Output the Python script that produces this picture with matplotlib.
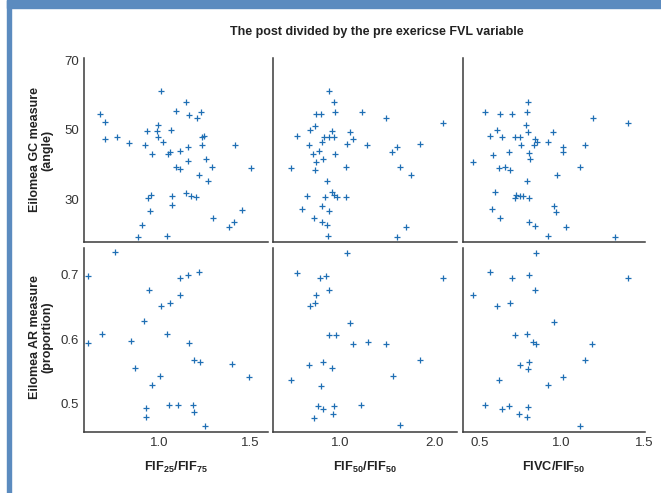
import matplotlib
matplotlib.use("Agg")
import matplotlib.pyplot as plt
from matplotlib.patches import Rectangle
from matplotlib.ticker import FormatStrFormatter

plt.rcParams['font.family'] = ['Liberation Sans', 'DejaVu Sans']
plt.rcParams['mathtext.fontset'] = 'custom'
plt.rcParams['mathtext.rm'] = 'Liberation Sans:bold'
plt.rcParams['mathtext.bf'] = 'Liberation Sans:bold'

# GC measure (angle) vs each ratio
gc_x1 = [0.673, 0.702, 0.700, 0.768, 0.833, 0.919, 0.958, 0.932, 0.985, 0.994,
         0.994, 1.022, 1.007, 1.066, 1.046, 1.061, 1.094, 1.149, 1.164, 1.206,
         1.228, 1.114, 1.160, 1.232, 1.248, 1.232, 1.090, 1.114, 1.160, 1.256,
         1.287, 1.219, 1.265, 1.415, 1.504, 0.936, 0.954, 0.950, 1.072, 1.068,
         1.145, 1.175, 1.202, 0.903, 0.884, 1.044, 1.296, 1.382, 1.410, 1.456]
gc_y1 = [54.5, 52.2, 47.3, 47.8, 46.1, 45.5, 42.9, 49.6, 49.6, 51.3,
         47.8, 46.4, 61.2, 50.1, 42.9, 43.5, 55.4, 58.0, 54.2, 53.4,
         55.2, 43.9, 44.9, 47.8, 48.1, 45.5, 39.3, 38.6, 40.9, 41.5,
         39.4, 36.9, 35.1, 45.5, 38.9, 30.3, 31.2, 26.4, 30.8, 28.2,
         31.6, 30.8, 30.5, 22.5, 18.9, 19.2, 24.4, 22.0, 23.3, 26.7]

gc_x2 = [0.884, 0.940, 0.951, 0.744, 0.796, 1.228, 1.484, 2.084, 0.684, 0.737,
         0.919, 1.109, 0.547, 0.832, 0.881, 0.937, 1.137, 0.807, 0.677, 1.074,
         1.288, 1.846, 1.596, 0.775, 1.551, 0.712, 0.951, 0.818, 0.751, 0.488,
         0.740, 1.067, 1.628, 1.751, 0.860, 0.919, 0.940, 0.968, 0.649, 0.846,
         1.067, 0.814, 0.600, 0.881, 0.730, 0.814, 0.860, 1.695, 0.870, 1.600]
gc_y2 = [61.1, 58.0, 55.3, 54.6, 54.6, 55.2, 53.3, 51.9, 50.1, 51.0,
         49.7, 49.3, 48.1, 47.8, 47.8, 47.8, 47.3, 46.5, 45.5, 45.8,
         45.5, 45.8, 44.9, 43.9, 43.5, 42.9, 42.9, 41.5, 40.6, 39.0,
         38.3, 39.2, 39.4, 36.8, 35.1, 31.9, 31.2, 30.6, 30.9, 30.6,
         30.6, 28.0, 27.0, 26.4, 24.4, 23.3, 22.5, 21.8, 19.2, 18.9]

gc_x3 = [0.793, 0.538, 0.624, 0.701, 0.789, 1.187, 1.404, 0.610, 0.785, 0.793,
         0.948, 0.568, 0.641, 0.719, 0.747, 0.841, 0.853, 0.920, 0.753, 0.831,
         1.008, 1.139, 0.679, 1.010, 0.801, 0.586, 0.805, 0.464, 0.618, 0.659,
         0.689, 1.110, 0.972, 0.789, 0.598, 0.725, 0.747, 0.765, 0.717, 0.799,
         0.952, 0.966, 0.580, 0.629, 0.799, 0.839, 1.026, 0.918, 1.323]
gc_y3 = [58.0, 55.2, 54.6, 54.6, 55.2, 53.3, 51.9, 50.1, 51.3, 49.3,
         49.3, 48.1, 47.8, 47.8, 47.8, 47.3, 46.4, 46.4, 45.5, 45.5,
         44.9, 45.5, 43.5, 43.5, 43.2, 42.6, 41.5, 40.6, 39.0, 39.4,
         38.3, 39.4, 36.8, 35.1, 31.9, 31.3, 30.8, 30.8, 30.2, 30.2,
         28.0, 26.1, 27.0, 24.4, 23.3, 22.1, 21.8, 19.2, 18.9]

# AR measure (proportion) vs each ratio
ar_x1 = [0.754, 0.607, 0.605, 0.686, 0.943, 0.915, 0.846, 0.868, 1.009, 1.059,
         1.116, 1.158, 1.217, 1.112, 1.040, 1.165, 1.193, 1.221, 1.399, 1.494,
         1.004, 0.961, 0.926, 0.928, 1.055, 1.101, 1.186, 1.193, 1.250]
ar_y1 = [0.735, 0.698, 0.594, 0.608, 0.676, 0.628, 0.597, 0.555, 0.651, 0.657,
         0.696, 0.700, 0.704, 0.668, 0.608, 0.594, 0.567, 0.564, 0.561, 0.541,
         0.542, 0.528, 0.492, 0.478, 0.498, 0.497, 0.498, 0.486, 0.464]

ar_x2 = [1.070, 0.547, 0.793, 0.849, 2.084, 0.881, 0.744, 0.740, 0.688, 1.109,
         0.884, 0.961, 1.140, 1.298, 1.481, 1.846, 0.677, 0.821, 0.919, 1.558,
         0.488, 0.804, 0.768, 0.940, 0.825, 0.930, 1.225, 0.730, 1.635]
ar_y2 = [0.734, 0.703, 0.695, 0.698, 0.696, 0.676, 0.668, 0.656, 0.651, 0.625,
         0.606, 0.606, 0.592, 0.595, 0.592, 0.567, 0.559, 0.564, 0.555, 0.542,
         0.537, 0.527, 0.496, 0.496, 0.491, 0.484, 0.497, 0.477, 0.466]

ar_x3 = [0.847, 0.564, 0.799, 0.699, 1.404, 0.837, 0.464, 0.689, 0.608, 0.954,
         0.717, 0.789, 0.829, 0.843, 1.185, 1.139, 0.801, 0.749, 0.793, 1.006,
         0.620, 0.920, 0.536, 0.641, 0.681, 0.793, 0.743, 0.791, 1.108]
ar_y3 = [0.734, 0.704, 0.700, 0.695, 0.696, 0.676, 0.668, 0.656, 0.651, 0.626,
         0.606, 0.608, 0.595, 0.592, 0.592, 0.567, 0.565, 0.559, 0.553, 0.541,
         0.537, 0.528, 0.497, 0.491, 0.496, 0.494, 0.484, 0.478, 0.464]

x_labels = [r'FIF$_{25}$/FIF$_{75}$', r'FIF$_{50}$/FIF$_{50}$', r'FIVC/FIF$_{50}$']
x_ticks = [[1.0, 1.5], [1.0, 2.0], [0.5, 1.0, 1.5]]
x_lims = [(0.586, 1.60), (0.29, 2.23), (0.40, 1.505)]
y_labels = ['Eilomea GC measure\n(angle)', 'Eilomea AR measure\n(proportion)']

W, H = 661, 493
fig = plt.figure(figsize=(W / 100, H / 100), dpi=100)

# blue frame
frame = '#5b8bbf'
fig.patches.append(Rectangle((7 / W, 1 - 8 / H), 1, 8 / H, transform=fig.transFigure,
                             color=frame, zorder=0))
fig.patches.append(Rectangle((7 / W, 0), 3.5 / W, 1, transform=fig.transFigure,
                             color=frame, zorder=0))

cols = [(84.3, 268.3), (272.7, 456.7), (462.7, 645.0)]
rows = [(58.3, 241.7), (248.0, 431.7)]
data = [[(gc_x1, gc_y1), (gc_x2, gc_y2), (gc_x3, gc_y3)],
        [(ar_x1, ar_y1), (ar_x2, ar_y2), (ar_x3, ar_y3)]]

for r, (top, bot) in enumerate(rows):
    for c, (left, right) in enumerate(cols):
        ax = fig.add_axes([left / W, 1 - bot / H, (right - left) / W, (bot - top) / H])
        xs, ys = data[r][c]
        ax.plot(xs, ys, '+', color='#1f6fb4', ms=4.5, mew=0.9)
        ax.set_xlim(*x_lims[c])
        if r == 0:
            ax.set_ylim(17.65, 70.7)
            ax.set_yticks([30, 50, 70])
            ax.set_xticks([])
        else:
            ax.set_ylim(0.4557, 0.742)
            ax.set_yticks([0.5, 0.6, 0.7])
            ax.set_xticks(x_ticks[c])
            ax.xaxis.set_major_formatter(FormatStrFormatter('%.1f'))
            ax.set_xlabel(x_labels[c], fontsize=9.2, fontweight='bold', color='#222222',
                          labelpad=8)
        if c > 0:
            ax.set_yticklabels([])
        for s in ['top', 'right']:
            ax.spines[s].set_visible(False)
        for s in ['left', 'bottom']:
            ax.spines[s].set_color('#3a3a3a')
            ax.spines[s].set_linewidth(1.1)
        ax.tick_params(length=0, labelsize=9.5, colors='#333333', pad=4)
        ax.patch.set_alpha(0)

fig.text(41 / W, 1 - 150 / H, y_labels[0], rotation=90, ha='center', va='center',
         multialignment='center', fontsize=9, fontweight='bold', color='#222222',
         linespacing=1.1)
fig.text(41 / W, 1 - 337 / H, y_labels[1], rotation=90, ha='center', va='center',
         multialignment='center', fontsize=9, fontweight='bold', color='#222222',
         linespacing=1.1)
fig.text(377 / W, 1 - 32 / H, 'The post divided by the pre exericse FVL variable',
         ha='center', va='center', fontsize=9, fontweight='bold', color='#222222')

fig.savefig('out.png', dpi=100)
